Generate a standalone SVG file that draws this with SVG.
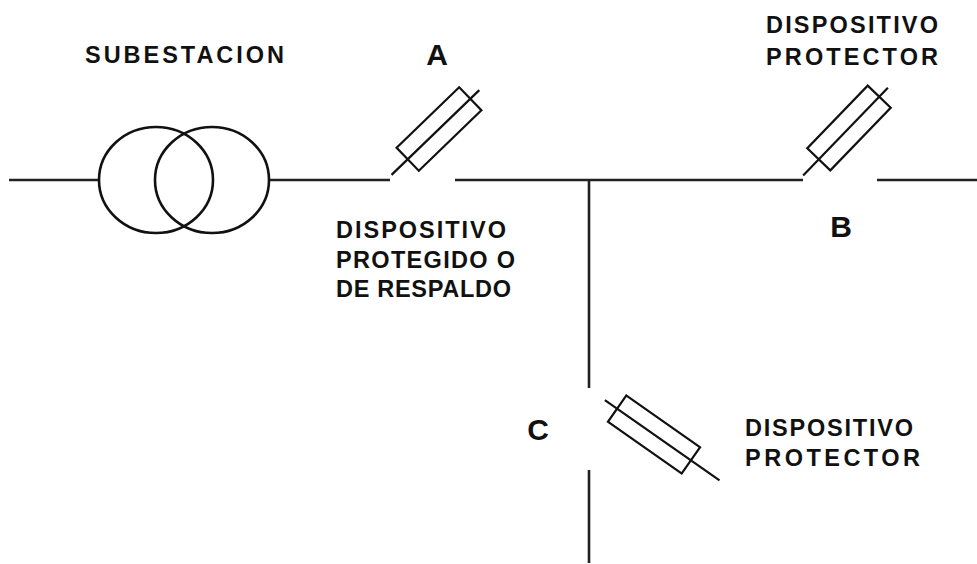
<svg xmlns="http://www.w3.org/2000/svg" width="977" height="564" viewBox="0 0 977 564">
<style>
.wire{stroke:#222;stroke-width:2.6;fill:none;stroke-linecap:butt}
.coil{stroke:#111;stroke-width:2.6;fill:none}
.fuse{stroke:#111;stroke-width:2.2;fill:none}
.lbl{font-family:"Liberation Sans",Arial,sans-serif;font-weight:bold;font-size:23.5px;fill:#111}
.let{font-family:"Liberation Sans",Arial,sans-serif;font-weight:bold;font-size:30px;fill:#111;text-anchor:middle}
</style>
<rect width="977" height="564" fill="#fff"/>
<g id="connectors">
<line class="wire" x1="9" y1="180" x2="99" y2="180"/>
<line class="wire" x1="268" y1="180" x2="390" y2="180"/>
<line class="wire" x1="455" y1="180" x2="803" y2="180"/>
<line class="wire" x1="877" y1="180" x2="977" y2="180"/>
<line class="wire" x1="589" y1="180" x2="589" y2="388"/>
<line class="wire" x1="589" y1="470" x2="589" y2="563"/>
</g>
<g id="transformer">
<ellipse class="coil" cx="156" cy="180" rx="57" ry="53"/>
<ellipse class="coil" cx="212" cy="180" rx="57" ry="53"/>
</g>
<g id="fuse-A" transform="translate(439,129) rotate(-44)">
<rect class="fuse" x="-43.5" y="-16" width="87" height="32"/>
<line class="fuse" x1="-66" y1="0" x2="56" y2="0"/>
</g>
<g id="fuse-B" transform="translate(849,128) rotate(-46)">
<rect class="fuse" x="-43.5" y="-16" width="87" height="32"/>
<line class="fuse" x1="-66" y1="0" x2="56" y2="0"/>
</g>
<g id="fuse-C" transform="translate(654,434.5) rotate(35)">
<rect class="fuse" x="-45" y="-16" width="90" height="32"/>
<line class="fuse" x1="-60" y1="0" x2="80" y2="0"/>
</g>
<g id="labels">
<text class="lbl" x="85" y="63" textLength="199" lengthAdjust="spacing">SUBESTACION</text>
<text class="let" x="437" y="65">A</text>
<text class="lbl" x="766" y="33" textLength="172" lengthAdjust="spacing">DISPOSITIVO</text>
<text class="lbl" x="766" y="65" textLength="172" lengthAdjust="spacing">PROTECTOR</text>
<text class="let" x="841" y="237">B</text>
<text class="lbl" x="336" y="238" textLength="170" lengthAdjust="spacing">DISPOSITIVO</text>
<text class="lbl" x="336" y="268" textLength="179" lengthAdjust="spacing">PROTEGIDO O</text>
<text class="lbl" x="336" y="297" textLength="175" lengthAdjust="spacing">DE RESPALDO</text>
<text class="let" x="538" y="440">C</text>
<text class="lbl" x="745" y="436" textLength="168" lengthAdjust="spacing">DISPOSITIVO</text>
<text class="lbl" x="745" y="466" textLength="175" lengthAdjust="spacing">PROTECTOR</text>
</g>
</svg>
